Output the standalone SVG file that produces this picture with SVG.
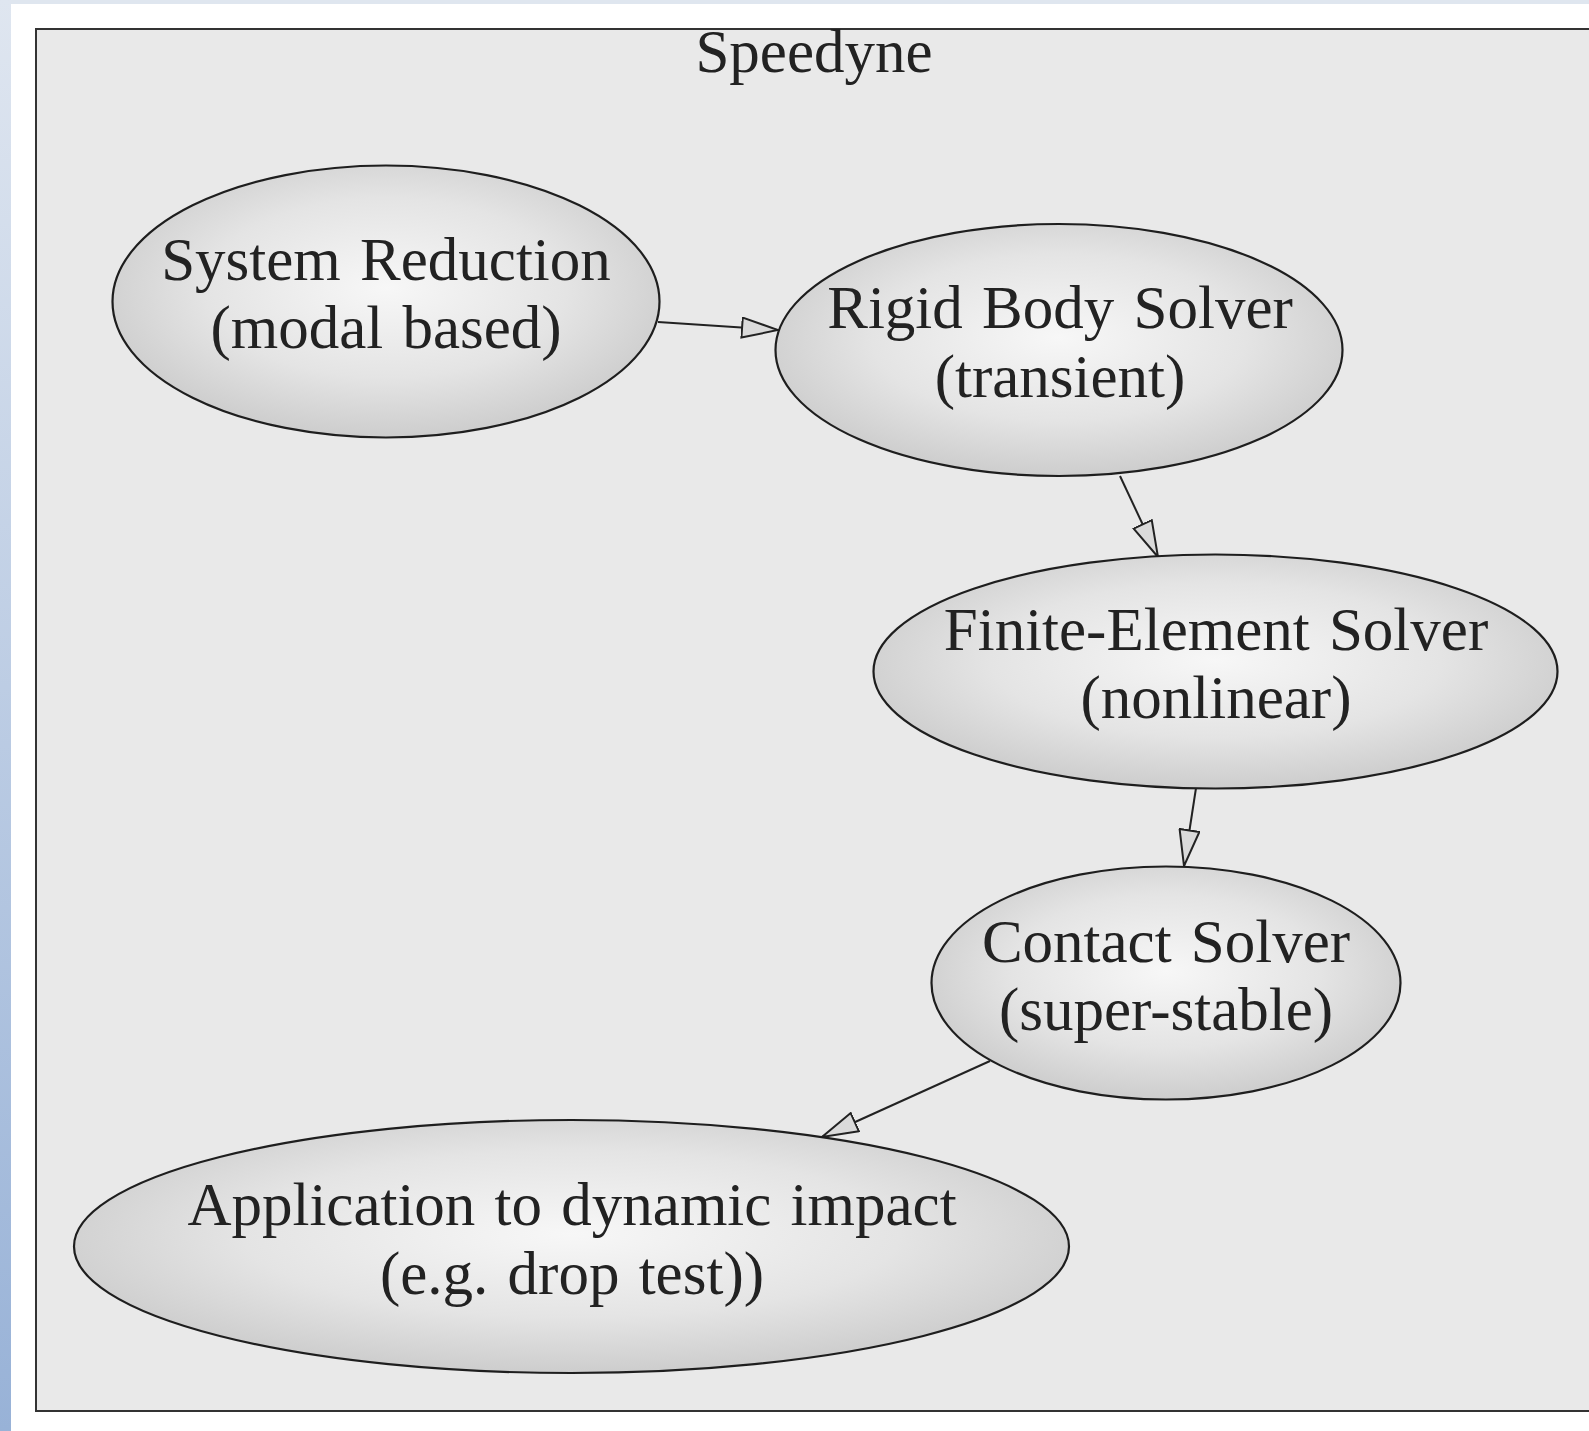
<svg xmlns="http://www.w3.org/2000/svg" width="1589" height="1431" viewBox="0 0 1589 1431">
<defs>
<style>
.node ellipse{fill:url(#shade);stroke:#1e1e1e;stroke-width:2.2}
.lbl{font-family:"Liberation Serif","Times New Roman",serif;font-size:61px;fill:#222;text-anchor:middle;word-spacing:4px}
.edge{stroke:#222;stroke-width:2;fill:none;marker-end:url(#arr)}
</style>
<radialGradient id="shade" cx="50%" cy="45%" r="55%">
<stop offset="0" stop-color="#f7f7f7"/>
<stop offset="0.6" stop-color="#e4e4e4"/>
<stop offset="1" stop-color="#cdcdcd"/>
</radialGradient>
<linearGradient id="side" x1="0" y1="0" x2="0" y2="1">
<stop offset="0" stop-color="#dfe6f0"/>
<stop offset="1" stop-color="#98b2d7"/>
</linearGradient>
<marker id="arr" viewBox="0 0 38 22" markerWidth="38" markerHeight="22" refX="37" refY="11" orient="auto" markerUnits="userSpaceOnUse">
<path d="M1,1 L37,11 L1,21 Z" fill="#dadada" stroke="#222" stroke-width="2" stroke-linejoin="miter"/>
</marker>
</defs>
<rect x="0" y="0" width="1589" height="1431" fill="#ffffff"/>
<rect x="0" y="0" width="1589" height="4" fill="#dfe6ef"/>
<rect x="0" y="0" width="11" height="1431" fill="url(#side)"/>
<g id="cluster">
<rect x="36" y="29" width="1570" height="1382" fill="#e9e9e9" stroke="#333" stroke-width="2"/>
<text class="lbl" x="814" y="72">Speedyne</text>
</g>
<g id="edges">
<path class="edge" d="M658,322 L778,330"/>
<path class="edge" d="M1120,476 L1158,557"/>
<path class="edge" d="M1196,788 L1184,866"/>
<path class="edge" d="M990,1061 L822,1137"/>
</g>
<g id="n1" class="node">
<ellipse cx="386" cy="301.5" rx="273.5" ry="136"/>
<text class="lbl" x="386" y="280">System Reduction</text>
<text class="lbl" x="386" y="348">(modal based)</text>
</g>
<g id="n2" class="node">
<ellipse cx="1059" cy="350" rx="283.5" ry="126"/>
<text class="lbl" x="1060" y="328">Rigid Body Solver</text>
<text class="lbl" x="1060" y="397">(transient)</text>
</g>
<g id="n3" class="node">
<ellipse cx="1215.5" cy="671.5" rx="342" ry="117"/>
<text class="lbl" x="1216" y="650">Finite-Element Solver</text>
<text class="lbl" x="1216" y="718">(nonlinear)</text>
</g>
<g id="n4" class="node">
<ellipse cx="1166" cy="983" rx="234.5" ry="116.5"/>
<text class="lbl" x="1166" y="962">Contact Solver</text>
<text class="lbl" x="1166" y="1030">(super-stable)</text>
</g>
<g id="n5" class="node">
<ellipse cx="571.5" cy="1246.5" rx="497.5" ry="126.5"/>
<text class="lbl" x="572" y="1225">Application to dynamic impact</text>
<text class="lbl" x="572" y="1294">(e.g. drop test))</text>
</g>
</svg>
